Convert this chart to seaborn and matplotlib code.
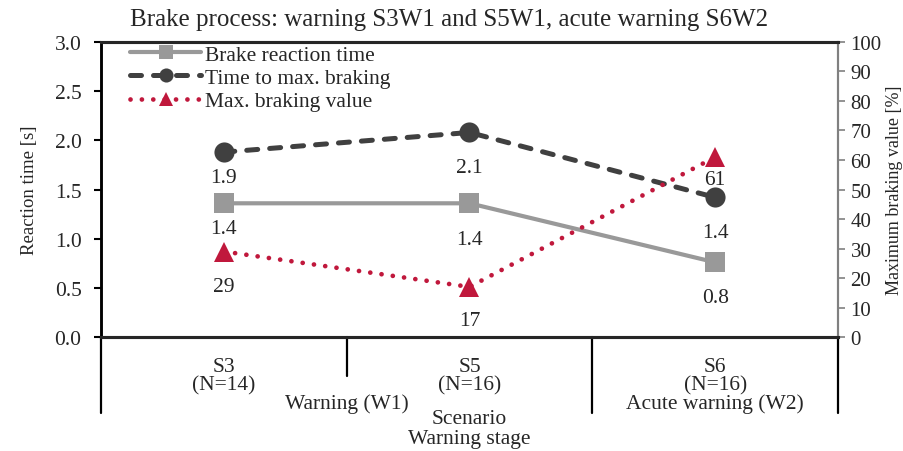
import numpy as np
import pandas as pd
import matplotlib
matplotlib.use("Agg")
import matplotlib.pyplot as plt
import seaborn as sns

# Data
scenarios = ["S3", "S5", "S6"]
n_labels = ["(N=14)", "(N=16)", "(N=16)"]
reaction_time = [1.36, 1.36, 0.76]
time_to_max = [1.88, 2.08, 1.42]
max_braking = [29, 17, 61]
stages = ["Warning (W1)", "Acute warning (W2)"]

sns.set_style("ticks")
plt.rcParams['font.family'] = ['Liberation Serif', 'DejaVu Serif']
fs = 15.5

gray = "#999999"
dark = "#404040"
red = "#c0183c"

x = np.arange(len(scenarios)) + 0.5
df = pd.DataFrame({"x": x, "rt": reaction_time, "tm": time_to_max, "mb": max_braking})

fig, ax = plt.subplots(figsize=(9.04, 4.52), dpi=100)
fig.subplots_adjust(left=0.1117, right=0.927, top=0.905, bottom=0.252)
ax2 = ax.twinx()

sns.lineplot(data=df, x="x", y="rt", ax=ax, color=gray, lw=3.0, marker="s", markersize=14.5,
             markeredgewidth=0, label="Brake reaction time", legend=False)
sns.lineplot(data=df, x="x", y="tm", ax=ax, color=dark, lw=3.6, marker="o", markersize=14.5,
             markeredgewidth=0, label="Time to max. braking", legend=False)
ax.lines[-1].set_dashes([2.2, 2.4])
ax.lines[-1].set_dash_capstyle("round")
sns.lineplot(data=df, x="x", y="mb", ax=ax2, color=red, lw=3.4, marker="^", markersize=15,
             markeredgewidth=0, label="Max. braking value", legend=False)
ax2.lines[-1].set_dashes([0.01, 2.4])
ax2.lines[-1].set_dash_capstyle("round")

# value labels below markers (offsets in points)
rt_off = [-18, -26, -25]
tm_off = [-18, -25, -25]
mb_off = [-25, -24, -16]
for xi, v, o in zip(x, reaction_time, rt_off):
    ax.annotate(f"{v:.1f}", (xi, v), xytext=(0, o), textcoords="offset points",
                ha="center", va="center", fontsize=fs)
for xi, v, o in zip(x, time_to_max, tm_off):
    ax.annotate(f"{v:.1f}", (xi, v), xytext=(0, o), textcoords="offset points",
                ha="center", va="center", fontsize=fs)
for xi, v, o in zip(x, max_braking, mb_off):
    ax2.annotate(f"{v}", (xi, v), xytext=(0, o), textcoords="offset points",
                 ha="center", va="center", fontsize=fs)

ax.set_xlim(0, 3)
ax.set_ylim(0, 3)
ax.set_yticks(np.arange(0, 3.01, 0.5))
ax.set_yticklabels([f"{t:.1f}" for t in np.arange(0, 3.01, 0.5)])
ax2.set_ylim(0, 100)
ax2.set_yticks(np.arange(0, 101, 10))
ax.set_xticks([])
ax.set_xlabel("")
ax.set_ylabel("Reaction time [s]", fontsize=13.5, labelpad=12)
ax2.set_ylabel("Maximum braking value [%]", fontsize=13, labelpad=3)

for a in (ax, ax2):
    a.spines["top"].set_visible(True)
    a.spines["top"].set_linewidth(2.2)
    a.spines["bottom"].set_linewidth(2.2)
    a.spines["left"].set_color("black")
    a.spines["left"].set_linewidth(1.8)
    a.spines["right"].set_color("#808080")
    a.spines["right"].set_linewidth(1.5)
ax.tick_params(axis="y", length=5, width=1.5, color="black", labelsize=fs, pad=9)
ax2.tick_params(axis="y", length=5, width=1.2, color="#808080", labelsize=15, pad=4)

fig.text(0.497, 0.955, "Brake process: warning S3W1 and S5W1, acute warning S6W2",
         ha="center", va="center", fontsize=18)

# category axis below the plot
tr = ax.get_xaxis_transform()
for xs, bottom in zip([0, 1, 2, 3], [-0.258, -0.132, -0.258, -0.258]):
    ax.plot([xs, xs], [0, bottom], transform=tr, color="black", lw=1.6, clip_on=False)
for xi, s, n in zip(x, scenarios, n_labels):
    ax.text(xi, -0.1, s, transform=tr, ha="center", va="center", fontsize=fs)
    ax.text(xi, -0.161, n, transform=tr, ha="center", va="center", fontsize=fs)
ax.text(1.0, -0.224, stages[0], transform=tr, ha="center", va="center", fontsize=fs)
ax.text(2.5, -0.224, stages[1], transform=tr, ha="center", va="center", fontsize=fs)
ax.text(1.5, -0.276, "Scenario", transform=tr, ha="center", va="center", fontsize=fs)
ax.text(1.5, -0.345, "Warning stage", transform=tr, ha="center", va="center", fontsize=fs)

h1, l1 = ax.get_legend_handles_labels()
h2, l2 = ax2.get_legend_handles_labels()
ax.legend(h1 + h2, l1 + l2, loc="upper left", bbox_to_anchor=(0.022, 1.035), frameon=False,
          fontsize=fs, handlelength=3.3, handletextpad=0.2, labelspacing=0.15,
          borderaxespad=0.2, markerscale=0.7)

fig.savefig("out.png", dpi=100)
